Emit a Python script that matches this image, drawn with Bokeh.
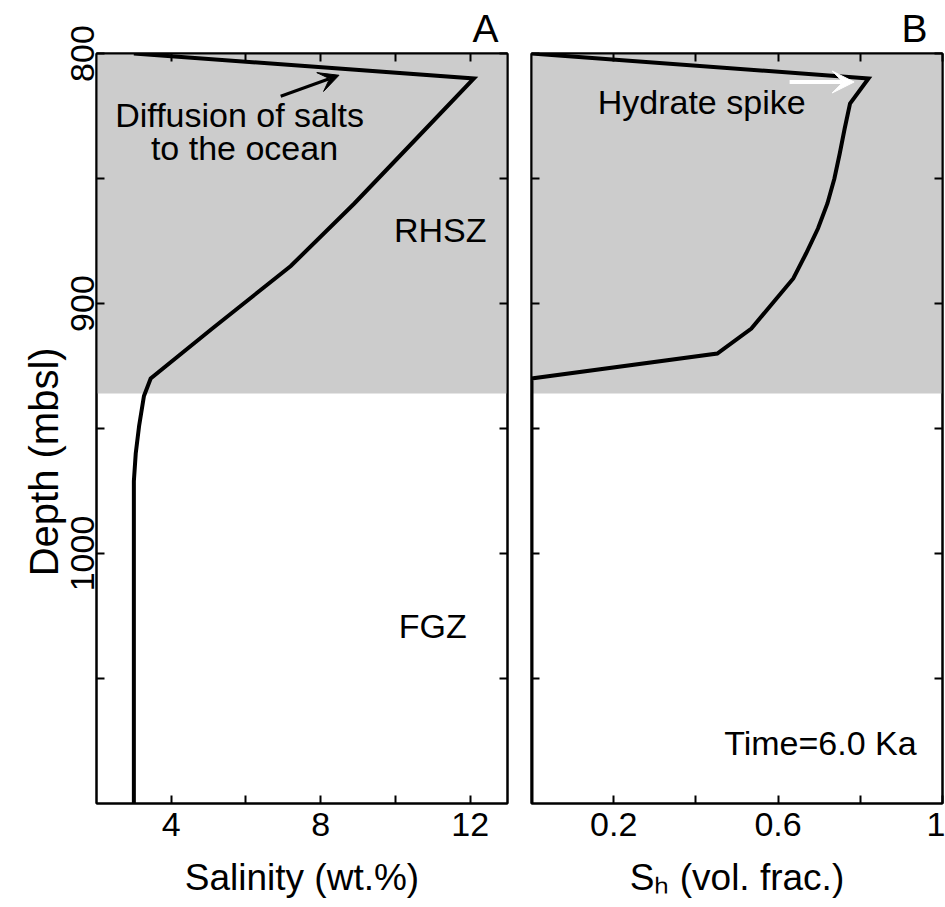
from bokeh.plotting import figure
from bokeh.layouts import row
from bokeh.models import (Range1d, FixedTicker, LinearAxis, BoxAnnotation, Label,
                          Arrow, VeeHead, Title)
from bokeh.embed import file_html
from bokeh.resources import INLINE

# ---------------- data ----------------
# Panel A: salinity profile
sal_depth = [800, 810, 835, 860, 885, 910, 930, 937, 949, 960, 971, 1100]
salinity = [3.0, 12.1, 10.5, 8.9, 7.2, 5.1, 3.45, 3.27, 3.14, 3.05, 3.0, 3.0]

# Panel B: hydrate saturation profile
sh_depth = [800, 810, 820, 830, 840, 850, 860, 870, 880, 890, 900, 910, 920, 930, 1100]
sh = [0.0, 0.82, 0.775, 0.762, 0.750, 0.737, 0.72, 0.697, 0.668, 0.637, 0.586, 0.535, 0.452, 0.0, 0.0]

# zone boundary (RHSZ shading)
rhsz_top = 800
rhsz_base = 936

# axes ranges / ticks
depth_range = (1100, 800)
sal_range = (2, 13)
sh_range = (0, 1)
depth_ticks = [800, 900, 1000]
depth_tick_labels = ["800", "900", "1000"]
depth_minor = [850, 950, 1050]
sal_ticks = [4, 8, 12]
sal_tick_labels = ["4", "8", "12"]
sal_minor = [6, 10]
sh_ticks = [0.2, 0.6, 1.0]
sh_tick_labels = ["0.2", "0.6", "1"]
sh_minor = [0.4, 0.8]

# annotations (text, x, y)
notes_a = [("Diffusion of salts", 5.83, 824.6), ("to the ocean", 5.96, 837.9),
           ("RHSZ", 11.2, 870.4), ("FGZ", 11.0, 1028.8)]
arrow_a = (6.93, 817.1, 8.49, 808.7)
notes_b = [("Hydrate spike", 0.414, 819.2), ("Time=6.0 Ka", 0.703, 1075.9)]
arrow_b = (0.628, 811.4, 0.785, 811.4)

FONT = "Liberation Sans"
TICK_FS = "34px"


def tick_style(ax, major, minor, labels=None):
    ax.ticker = FixedTicker(ticks=major, minor_ticks=minor)
    if labels is not None:
        ax.major_label_overrides = {t: l for t, l in zip(major, labels)}
    ax.major_tick_in = 8
    ax.major_tick_out = 0
    ax.minor_tick_in = 8
    ax.minor_tick_out = 0
    ax.axis_line_width = 2
    ax.axis_line_color = "black"
    ax.major_tick_line_width = 2
    ax.minor_tick_line_width = 2
    ax.major_tick_line_color = "black"
    ax.minor_tick_line_color = "black"
    ax.major_label_text_font = FONT
    ax.major_label_text_color = "black"
    ax.major_label_text_font_size = TICK_FS


def make_panel(xr, xticks, xminor, xlabels, xlabel, title, title_offset, show_y,
               left_border, right_border):
    p = figure(frame_width=411, frame_height=750,
               x_range=Range1d(*xr), y_range=Range1d(*depth_range),
               output_backend="svg", toolbar_location=None,
               min_border_left=left_border, min_border_right=right_border,
               min_border_top=53, min_border_bottom=104,
               background_fill_color="white", border_fill_color="white")
    p.xgrid.visible = False
    p.ygrid.visible = False
    p.outline_line_color = "black"
    p.outline_line_width = 2

    xa = p.xaxis[0]
    tick_style(xa, xticks, xminor, xlabels)
    xa.major_label_standoff = 9
    xa.axis_label = xlabel
    xa.axis_label_text_font = FONT
    xa.axis_label_text_font_size = "37px"
    xa.axis_label_text_font_style = "normal"
    xa.axis_label_text_color = "black"
    xa.axis_label_standoff = 18

    ya = p.yaxis[0]
    if show_y:
        tick_style(ya, depth_ticks, depth_minor, depth_tick_labels)
        ya.major_label_orientation = "vertical"
        ya.major_label_standoff = 3
        ya.axis_label = "Depth (mbsl)" + "\u00a0" * 6
        ya.axis_label_text_font = FONT
        ya.axis_label_text_font_size = "40px"
        ya.axis_label_text_font_style = "normal"
        ya.axis_label_text_color = "black"
        ya.axis_label_standoff = 2
    else:
        tick_style(ya, [], depth_ticks + depth_minor)

    top = LinearAxis()
    tick_style(top, [], xticks + xminor)
    p.add_layout(top, "above")
    right = LinearAxis()
    tick_style(right, [], depth_ticks + depth_minor)
    p.add_layout(right, "right")

    p.title = Title(text=title, align="right", vertical_align="top", text_font=FONT,
                    text_font_size="39px", text_font_style="normal", text_color="black",
                    offset=title_offset, standoff=4)

    p.add_layout(BoxAnnotation(top=rhsz_top, bottom=rhsz_base, fill_color="#cccccc",
                               fill_alpha=1.0, line_alpha=0, level="underlay"))
    return p


p1 = make_panel(sal_range, sal_ticks, sal_minor, sal_tick_labels, "Salinity (wt.%)",
                "A", 9, True, 96, 12)
p1.line(salinity, sal_depth, line_width=4, line_color="black", line_join="miter")
for t, x, y in notes_a:
    p1.add_layout(Label(x=x, y=y, text=t, text_align="center", text_baseline="alphabetic",
                        text_font=FONT, text_font_size="34px", text_color="black"))
p1.add_layout(Arrow(x_start=arrow_a[0], y_start=arrow_a[1], x_end=arrow_a[2], y_end=arrow_a[3],
                    line_color="black", line_width=3,
                    end=VeeHead(size=20, fill_color="black", line_color="black")))

p2 = make_panel(sh_range, sh_ticks, sh_minor, sh_tick_labels, "S\u2095 (vol. frac.)",
                "B", 15, False, 12, 3)
p2.line(sh, sh_depth, line_width=4, line_color="black", line_join="miter")
for t, x, y in notes_b:
    p2.add_layout(Label(x=x, y=y, text=t, text_align="center", text_baseline="alphabetic",
                        text_font=FONT, text_font_size="34px", text_color="black"))
p2.add_layout(Arrow(x_start=arrow_b[0], y_start=arrow_b[1], x_end=arrow_b[2], y_end=arrow_b[3],
                    line_color="white", line_width=4,
                    end=VeeHead(size=22, fill_color="white", line_color="white")))

layout = row(p1, p2)
open("out.html", "w").write(file_html(layout, INLINE))
